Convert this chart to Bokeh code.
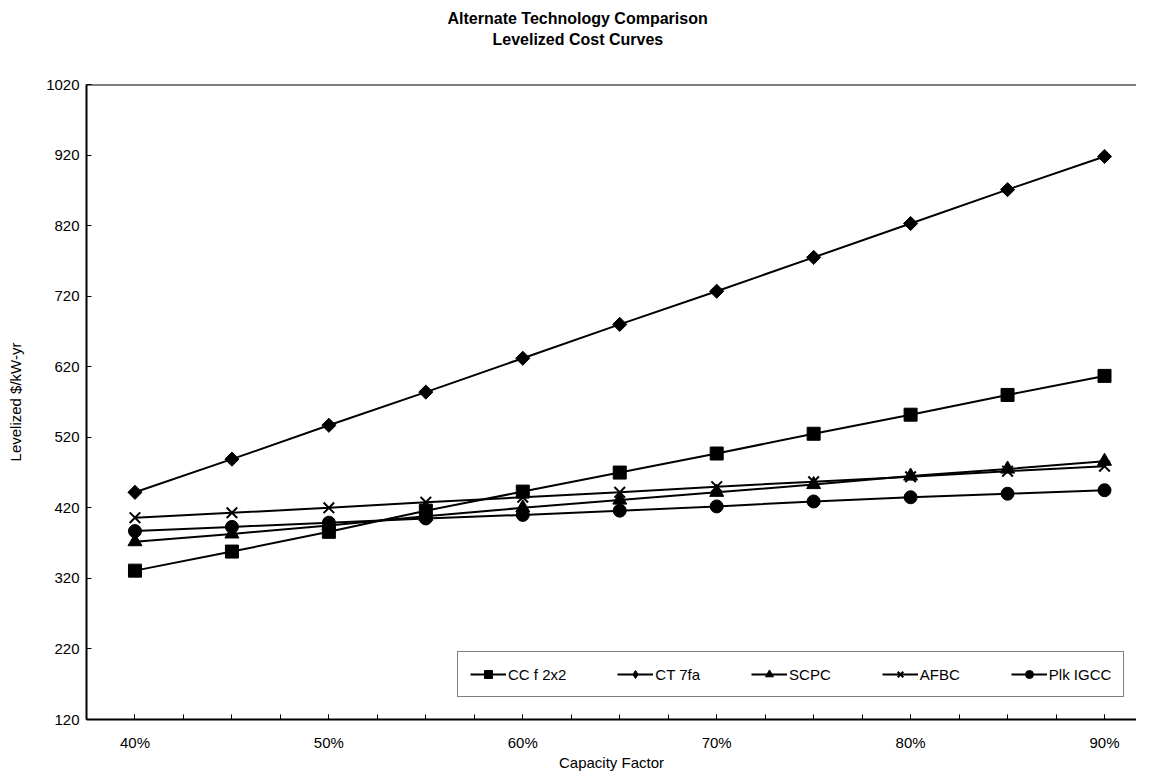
from bokeh.plotting import figure
from bokeh.models import FixedTicker, Span, Title, Legend, LegendItem
from bokeh.embed import file_html
from bokeh.resources import INLINE
import math

# ---- data ----
capacity_factor = [40, 45, 50, 55, 60, 65, 70, 75, 80, 85, 90]
cc_f_2x2 = [331, 358, 386, 416, 443, 470, 497, 525, 552, 580, 607]
ct_7fa = [442, 489, 537, 584, 632, 680, 727, 775, 823, 871, 918]
scpc = [372, 383, 395, 408, 420, 431, 442, 453, 465, 475, 486]
afbc = [406, 413, 420, 428, 435, 442, 450, 457, 464, 472, 479]
plk_igcc = [387, 393, 399, 405, 410, 416, 422, 429, 435, 440, 445]

series_names = ["CC f 2x2", "CT 7fa", "SCPC", "AFBC", "Plk IGCC"]
x_tick_values = [40, 50, 60, 70, 80, 90]
x_tick_labels = ["40%", "50%", "60%", "70%", "80%", "90%"]
x_minor_ticks = [40, 42.5, 45, 47.5, 50, 52.5, 55, 57.5, 60, 62.5, 65,
                 67.5, 70, 72.5, 75, 77.5, 80, 82.5, 85, 87.5, 90]
y_ticks = [120, 220, 320, 420, 520, 620, 720, 820, 920, 1020]

FONT = "Liberation Sans"

p = figure(width=1136, height=774, output_backend="svg", toolbar_location=None,
           x_range=(37.5, 91.65), y_range=(120, 1020),
           min_border_left=86, min_border_right=0, min_border_top=84,
           min_border_bottom=55)
p.title = None
p.outline_line_color = None
p.xgrid.visible = False
p.ygrid.visible = False
p.background_fill_color = "white"
p.border_fill_color = "white"

# titles: spacer closest to the frame, then line 2, then line 1 (outermost)
spacer = Title(text=" ", align="left", text_font=FONT, text_font_size="16px",
               text_color="white", standoff=17)
t2 = Title(text="Levelized Cost Curves", align="left", offset=406,
           text_font=FONT, text_font_size="16px", text_font_style="bold",
           text_color="black", standoff=2)
t1 = Title(text="Alternate Technology Comparison", align="left", offset=361,
           text_font=FONT, text_font_size="16px", text_font_style="bold",
           text_color="black", standoff=2)
p.add_layout(spacer, "above")
p.add_layout(t2, "above")
p.add_layout(t1, "above")

# axes
xa = p.xaxis[0]
xa.ticker = FixedTicker(ticks=x_tick_values, minor_ticks=x_minor_ticks)
xa.major_label_overrides = {v: l for v, l in zip(x_tick_values, x_tick_labels)}
xa.axis_label = "Capacity Factor"
ya = p.yaxis[0]
ya.ticker = FixedTicker(ticks=y_ticks)
ya.axis_label = "Levelized $/kW-yr"
for ax in (xa, ya):
    ax.axis_line_color = "black"
    ax.axis_line_width = 2
    ax.major_tick_in = 5
    ax.major_tick_out = 0
    ax.major_tick_line_color = "black"
    ax.major_tick_line_width = 1
    ax.major_label_text_font = FONT
    ax.major_label_text_font_size = "15px"
    ax.major_label_text_color = "black"
    ax.axis_label_text_font = FONT
    ax.axis_label_text_font_size = "15px"
    ax.axis_label_text_font_style = "normal"
    ax.axis_label_text_color = "black"
xa.minor_tick_in = 5
xa.minor_tick_out = 0
xa.minor_tick_line_color = "black"
xa.major_label_standoff = 14
xa.axis_label_standoff = 0
ya.minor_tick_line_color = None
ya.major_label_standoff = 7
ya.axis_label_standoff = 19

# top border line
p.add_layout(Span(location=1020, dimension="width", line_color="black", line_width=2))

specs = [
    (series_names[0], cc_f_2x2, "square", 13, 0.0),
    (series_names[1], ct_7fa, "square", 10, math.pi / 4),
    (series_names[2], scpc, "triangle", 14, 0.0),
    (series_names[3], afbc, "x", 15, 0.0),
    (series_names[4], plk_igcc, "circle", 13, 0.0),
]

items = []
for name, vals, marker, size, angle in specs:
    ln = p.line(capacity_factor, vals, line_color="black", line_width=2)
    sc = p.scatter(capacity_factor, vals, marker=marker, size=size, angle=angle,
                   fill_color="black", line_color="black",
                   line_width=2 if marker == "x" else 1)
    if angle != 0.0:
        # legend swatch drawn as a diamond (legend swatches ignore angle)
        sc_leg = p.scatter(capacity_factor, vals, marker="diamond", size=16,
                           fill_color="black", line_color="black", visible=False)
        items.append(LegendItem(label=name, renderers=[ln, sc_leg]))
    else:
        items.append(LegendItem(label=name, renderers=[ln, sc]))

legend = Legend(items=items, orientation="horizontal", location=(371, 22),
                label_text_font=FONT, label_text_font_size="15px",
                label_text_color="black", glyph_width=36, glyph_height=20,
                label_standoff=2, spacing=51, padding=12,
                border_line_color="black", border_line_width=1,
                background_fill_color="white", background_fill_alpha=1.0)
p.add_layout(legend, "center")

open("out.html", "w").write(file_html(p, INLINE))
